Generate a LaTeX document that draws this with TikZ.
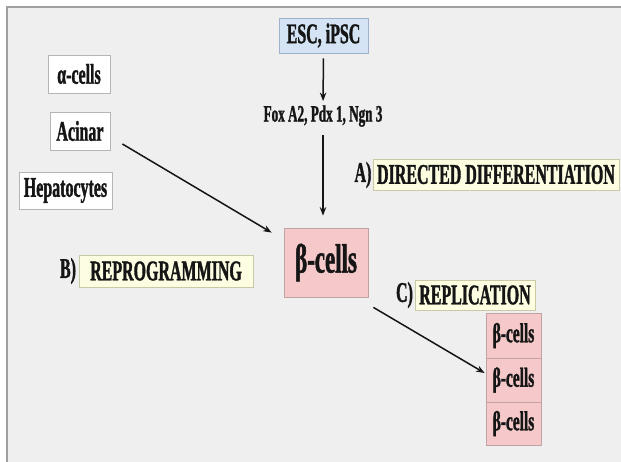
\documentclass[tikz,border=0pt]{standalone}
\usepackage{fontspec}
\setmainfont{Liberation Serif}
\newfontfamily\cf[FakeStretch=0.56, BoldFeatures={FakeBold=1.2}]{Liberation Serif}
\usetikzlibrary{arrows.meta}
\definecolor{bg}{HTML}{EFEFEF}
\definecolor{frame}{HTML}{A0A0A0}
\definecolor{bluefill}{HTML}{D4E4F4}
\definecolor{blueline}{HTML}{9FB3C8}
\definecolor{yelfill}{HTML}{FDFDE2}
\definecolor{yelline}{HTML}{C9C9A6}
\definecolor{pinkfill}{HTML}{F5C9CA}
\definecolor{pinkline}{HTML}{C2A2A2}
\definecolor{greyline}{HTML}{B5B5B5}
\definecolor{ink}{HTML}{151515}
\tikzset{
  txt/.style={font=\cf\bfseries\fontsize{28.5}{28.5}\selectfont, text=ink, inner sep=0pt},
  box/.style={txt, draw, line width=0.8pt, minimum width=#1},
  whitebox/.style={box=#1, fill=white, draw=greyline, minimum height=38},
  yelbox/.style={box=#1, fill=yelfill, draw=yelline, minimum height=31},
  pinkbox/.style={box=#1, fill=pinkfill, draw=pinkline},
  arr/.style={draw=ink, line width=1.5pt, -{Stealth[length=8.5pt,width=6.5pt]}},
}
\begin{document}
\begin{tikzpicture}[x=1pt,y=-1pt]
\useasboundingbox (0,0) rectangle (621,462);
\fill[white] (0,0) rectangle (621,462);
\fill[bg] (7,7) rectangle (621,462);
\draw[frame, line width=1.5pt] (621,7) -- (7,7) -- (7,462);

\node[box=89, fill=bluefill, draw=blueline, minimum height=35] (esc) at (323.5,35.5) {ESC, iPSC};
\node[txt, font=\cf\bfseries\fontsize{23.5}{23.5}\selectfont] (fox) at (323,116) {Fox A2, Pdx 1, Ngn 3};

\node[whitebox=62] (alpha) at (79,74) {α-cells};
\node[whitebox=60] (acinar) at (80,131) {Acinar};
\node[whitebox=93, minimum height=37] (hep) at (65.5,190.5) {Hepatocytes};

\node[yelbox=246] (dd) at (496,174.5) {DIRECTED DIFFERENTIATION};
\node[txt] (la) at (363,175) {A)};

\node[pinkbox=84, minimum height=69, font=\cf\bfseries\fontsize{41}{41}\selectfont] (beta) at (326,262.5) {β-cells};

\node[yelbox=174, minimum height=32] (rp) at (166,271) {REPROGRAMMING};
\node[txt] (lb) at (68,271) {B)};

\node[yelbox=120, minimum height=30] (rep) at (475,295) {REPLICATION};
\node[txt] (lc) at (404.5,295) {C)};

\node[pinkbox=55, minimum height=45, font=\cf\bfseries\fontsize{27.5}{27.5}\selectfont] (b1) at (513.5,335.5) {β-cells};
\node[pinkbox=55, minimum height=44, font=\cf\bfseries\fontsize{27.5}{27.5}\selectfont] (b2) at (513.5,380) {β-cells};
\node[pinkbox=55, minimum height=43, font=\cf\bfseries\fontsize{27.5}{27.5}\selectfont] (b3) at (513.5,423.5) {β-cells};

\draw[arr, shorten <=5pt, shorten >=4pt] (esc.south) -- (fox.north);
\draw[arr, shorten <=8pt, shorten >=12pt] (fox.south) -- (fox.south |- beta.north);
\draw[arr] ([shift={(12,13)}]acinar.east) -- ([shift={(-12,5)}]beta.north west);
\draw[arr] ([shift={(5,10)}]beta.south east) -- ([shift={(-1,-7)}]b2.west);
\end{tikzpicture}
\end{document}
